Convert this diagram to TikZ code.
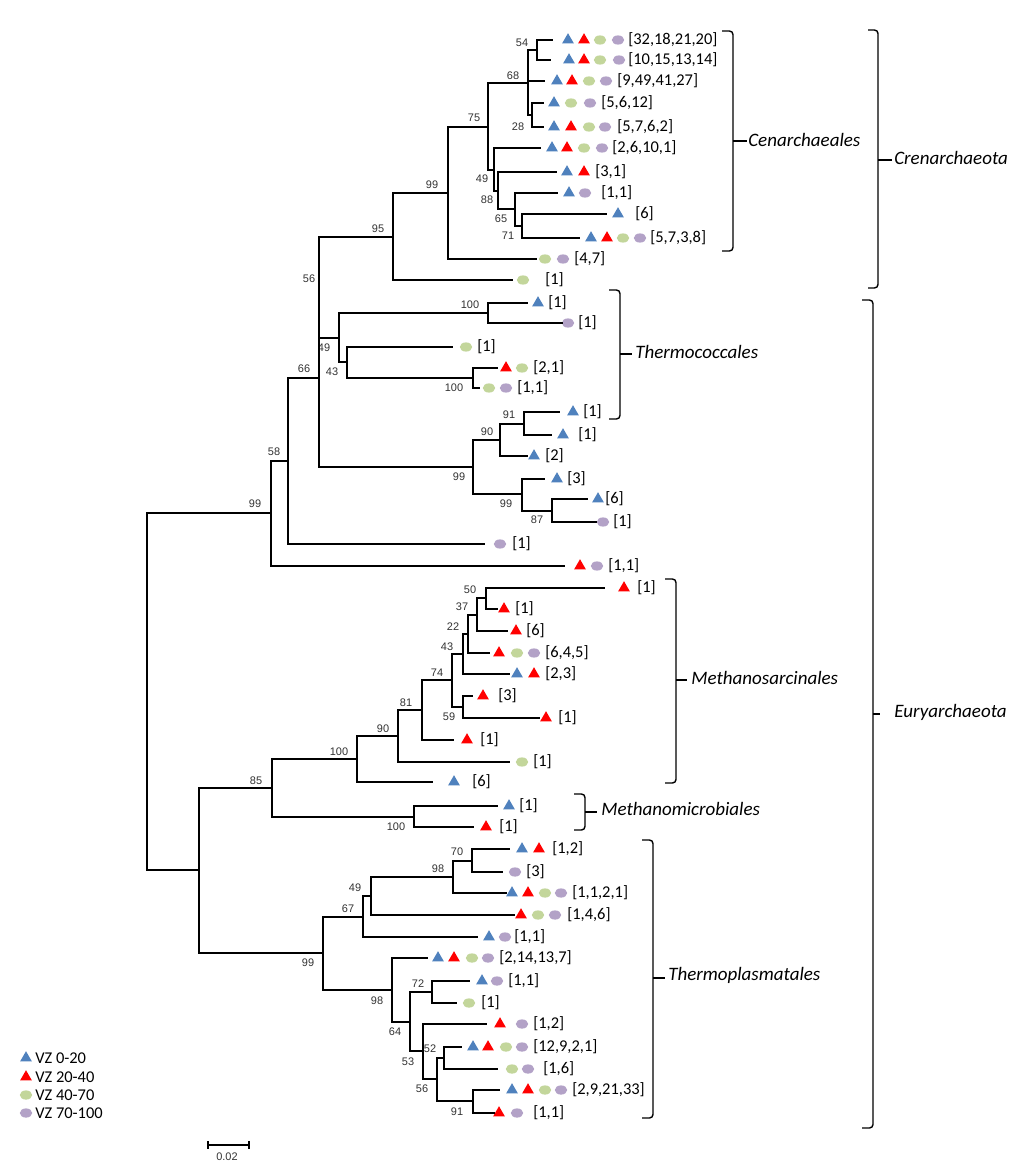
\documentclass[tikz,border=0pt]{standalone}
\usepackage{fontspec}
\setmainfont{Carlito}
\newfontfamily\bsfont{Liberation Sans}
\usetikzlibrary{shapes.geometric}
\definecolor{vzblue}{RGB}{79,129,189}
\definecolor{vzred}{RGB}{255,0,0}
\definecolor{vzgreen}{RGB}{195,214,155}
\definecolor{vzpurple}{RGB}{179,162,199}
\tikzset{
  branch/.style={line width=0.9pt},
  bracket/.style={line width=1pt, rounded corners=2.5pt},
  bs/.style={font=\bsfont\fontsize{7.8}{9}\selectfont, text=black!80, inner sep=0pt},
  lab/.style={font=\fontsize{11.7}{13}\selectfont, anchor=west, inner sep=0pt},
  clade/.style={font=\itshape\fontsize{13.5}{16}\selectfont, anchor=west, inner sep=0pt},
  tb/.style={regular polygon, regular polygon sides=3, inner sep=0pt, minimum size=0.34cm, fill=vzblue},
  tr/.style={regular polygon, regular polygon sides=3, inner sep=0pt, minimum size=0.34cm, fill=vzred},
  eg/.style={ellipse, inner sep=0pt, minimum width=0.31cm, minimum height=0.23cm, fill=vzgreen},
  ep/.style={ellipse, inner sep=0pt, minimum width=0.31cm, minimum height=0.23cm, fill=vzpurple}
}
\begin{document}
\begin{tikzpicture}[x=0.025cm, y=-0.025cm]
\path[use as bounding box, fill=white] (0,0) rectangle (1024,1176);

% Crenarchaeota leaves
\coordinate (c1) at (553,40);
\node[tb] (c1a) at (568,40) {}; \node[tr] (c1b) at (584,40) {}; \node[eg] (c1c) at (600,40) {}; \node[ep] (c1d) at (618,40) {}; \node[lab] (c1t) at (628,40) {[32,18,21,20]};
\coordinate (c2) at (551,60);
\node[tb] (c2a) at (569,60) {}; \node[tr] (c2b) at (584,60) {}; \node[eg] (c2c) at (600,60) {}; \node[ep] (c2d) at (619,60) {}; \node[lab] (c2t) at (628,60) {[10,15,13,14]};
\coordinate (c3) at (545,81);
\node[tb] (c3a) at (557,81) {}; \node[tr] (c3b) at (572,81) {}; \node[eg] (c3c) at (589,81) {}; \node[ep] (c3d) at (606,81) {}; \node[lab] (c3t) at (617,81) {[9,49,41,27]};
\coordinate (c4) at (544,103);
\node[tb] (c4a) at (554,103) {}; \node[eg] (c4c) at (571,103) {}; \node[ep] (c4d) at (590,103) {}; \node[lab] (c4t) at (601,103) {[5,6,12]};
\coordinate (c5) at (544,127);
\node[tb] (c5a) at (554,127) {}; \node[tr] (c5b) at (571,127) {}; \node[eg] (c5c) at (589,127) {}; \node[ep] (c5d) at (605,127) {}; \node[lab] (c5t) at (617,127) {[5,7,6,2]};
\coordinate (c6) at (541,148);
\node[tb] (c6a) at (552,148) {}; \node[tr] (c6b) at (567,148) {}; \node[eg] (c6c) at (584,148) {}; \node[ep] (c6d) at (602,148) {}; \node[lab] (c6t) at (612,148) {[2,6,10,1]};
\coordinate (c7) at (557,172);
\node[tb] (c7a) at (567,172) {}; \node[tr] (c7b) at (584,172) {}; \node[lab] (c7t) at (595,172) {[3,1]};
\coordinate (c8) at (558,193);
\node[tb] (c8a) at (569,193) {}; \node[ep] (c8d) at (585,193) {}; \node[lab] (c8t) at (601,193) {[1,1]};
\coordinate (c9) at (607,214);
\node[tb] (c9a) at (618,214) {}; \node[lab] (c9t) at (635,214) {[6]};
\coordinate (c10) at (580,238);
\node[tb] (c10a) at (591,238) {}; \node[tr] (c10b) at (607,238) {}; \node[eg] (c10c) at (623,238) {}; \node[ep] (c10d) at (640,238) {}; \node[lab] (c10t) at (650,238) {[5,7,3,8]};
\coordinate (c11) at (537,259);
\node[eg] (c11c) at (545,259) {}; \node[ep] (c11d) at (563,259) {}; \node[lab] (c11t) at (574,259) {[4,7]};
\coordinate (c12) at (513,280);
\node[eg] (c12c) at (523,280) {}; \node[lab] (c12t) at (545,280) {[1]};

% Crenarchaeota inner nodes
\coordinate (n54) at (537,50); \node[bs] (b54) at (522,43) {54};
\coordinate (n28) at (532,115); \node[bs] (b28) at (518,127) {28};
\coordinate (n68) at (528,83); \node[bs] (b68) at (513,76) {68};
\coordinate (n71) at (522,226); \node[bs] (b71) at (508,236) {71};
\coordinate (n65) at (515,209); \node[bs] (b65) at (501,219) {65};
\coordinate (n88) at (498,191); \node[bs] (b88) at (487,200) {88};
\coordinate (n49) at (494,170); \node[bs] (b49) at (482,179) {49};
\coordinate (n75) at (488,127); \node[bs] (b75) at (474,118) {75};
\coordinate (n99a) at (448,193); \node[bs] (b99a) at (432,185) {99};
\coordinate (n95) at (393,237); \node[bs] (b95) at (378,229) {95};
\coordinate (nA) at (319,287); \node[bs] (bA) at (309,279) {56};

% Euryarchaeota upper leaves
\coordinate (e1) at (528,303);
\node[tb] (e1a) at (538,303) {}; \node[lab] (e1t) at (548,303) {[1]};
\coordinate (e2) at (563,323);
\node[ep] (e2d) at (568,323) {}; \node[lab] (e2t) at (578,323) {[1]};
\coordinate (e3) at (453,347);
\node[eg] (e3c) at (466,347) {}; \node[lab] (e3t) at (477,347) {[1]};
\coordinate (e4) at (498,368);
\node[tr] (e4b) at (506,368) {}; \node[eg] (e4c) at (522,368) {}; \node[lab] (e4t) at (533,368) {[2,1]};
\coordinate (e5) at (480,388);
\node[eg] (e5c) at (489,388) {}; \node[ep] (e5d) at (506,388) {}; \node[lab] (e5t) at (517,388) {[1,1]};
\coordinate (e6) at (560,412);
\node[tb] (e6a) at (573,412) {}; \node[lab] (e6t) at (583,412) {[1]};
\coordinate (e7) at (552,435);
\node[tb] (e7a) at (563,435) {}; \node[lab] (e7t) at (578,435) {[1]};
\coordinate (e8) at (528,456);
\node[tb] (e8a) at (534,456) {}; \node[lab] (e8t) at (545,456) {[2]};
\coordinate (e9) at (545,479);
\node[tb] (e9a) at (557,479) {}; \node[lab] (e9t) at (567,479) {[3]};
\coordinate (e10) at (588,499);
\node[tb] (e10a) at (598,499) {}; \node[lab] (e10t) at (605,499) {[6]};
\coordinate (e11) at (597,522);
\node[ep] (e11d) at (603,522) {}; \node[lab] (e11t) at (613,522) {[1]};
\coordinate (e12) at (485,544);
\node[ep] (e12d) at (500,544) {}; \node[lab] (e12t) at (512,544) {[1]};
\coordinate (e13) at (565,566);
\node[tr] (e13b) at (580,566) {}; \node[ep] (e13d) at (597,566) {}; \node[lab] (e13t) at (608,566) {[1,1]};

% Euryarchaeota upper inner nodes
\coordinate (n49b) at (339,338); \node[bs] (b49b) at (324,348) {49};
\coordinate (n100a) at (488,313); \node[bs] (b100a) at (470,305) {100};
\coordinate (n43) at (347,362); \node[bs] (b43) at (332,372) {43};
\coordinate (n100b) at (473,378); \node[bs] (b100b) at (454,388) {100};
\coordinate (nE3) at (319,378); \node[bs] (bE3) at (304,369) {66};
\coordinate (n99b) at (473,467); \node[bs] (b99b) at (459,477) {99};
\coordinate (n90) at (500,440); \node[bs] (b90) at (487,432) {90};
\coordinate (n91) at (524,424); \node[bs] (b91) at (509,415) {91};
\coordinate (n99c) at (522,494); \node[bs] (b99c) at (506,504) {99};
\coordinate (n87) at (552,511); \node[bs] (b87) at (537,520) {87};
\coordinate (nE2) at (288,461); \node[bs] (bE2) at (274,452) {58};
\coordinate (nE1) at (271,513); \node[bs] (bE1) at (255,504) {99};

% Methanosarcinales and Methanomicrobiales leaves
\coordinate (m1) at (605,588);
\node[tr] (m1b) at (624,588) {}; \node[lab] (m1t) at (637,588) {[1]};
\coordinate (m2) at (498,609);
\node[tr] (m2b) at (504,609) {}; \node[lab] (m2t) at (515,609) {[1]};
\coordinate (m3) at (508,631);
\node[tr] (m3b) at (516,631) {}; \node[lab] (m3t) at (526,631) {[6]};
\coordinate (m4) at (490,653);
\node[tr] (m4b) at (499,653) {}; \node[eg] (m4c) at (517,653) {}; \node[ep] (m4d) at (534,653) {}; \node[lab] (m4t) at (545,653) {[6,4,5]};
\coordinate (m5) at (510,674);
\node[tb] (m5a) at (517,674) {}; \node[tr] (m5b) at (534,674) {}; \node[lab] (m5t) at (545,674) {[2,3]};
\coordinate (m6) at (473,696);
\node[tr] (m6b) at (483,696) {}; \node[lab] (m6t) at (498,696) {[3]};
\coordinate (m7) at (540,718);
\node[tr] (m7b) at (546,718) {}; \node[lab] (m7t) at (558,718) {[1]};
\coordinate (m8) at (454,740);
\node[tr] (m8b) at (467,740) {}; \node[lab] (m8t) at (480,740) {[1]};
\coordinate (m9) at (510,762);
\node[eg] (m9c) at (522,762) {}; \node[lab] (m9t) at (533,762) {[1]};
\coordinate (m10) at (433,782);
\node[tb] (m10a) at (454,782) {}; \node[lab] (m10t) at (472,782) {[6]};
\coordinate (mm1) at (498,806);
\node[tb] (mm1a) at (509,806) {}; \node[lab] (mm1t) at (519,806) {[1]};
\coordinate (mm2) at (474,827);
\node[tr] (mm2b) at (486,827) {}; \node[lab] (mm2t) at (499,827) {[1]};

% Methanosarcinales and Methanomicrobiales inner nodes
\coordinate (n50) at (486,598); \node[bs] (b50) at (470,590) {50};
\coordinate (n37) at (477,615); \node[bs] (b37) at (462,607) {37};
\coordinate (n22) at (468,634); \node[bs] (b22) at (453,627) {22};
\coordinate (n43m) at (463,654); \node[bs] (b43m) at (447,647) {43};
\coordinate (n59) at (463,707); \node[bs] (b59) at (449,717) {59};
\coordinate (n74) at (452,680); \node[bs] (b74) at (437,673) {74};
\coordinate (n81) at (422,710); \node[bs] (b81) at (406,703) {81};
\coordinate (n90m) at (398,736); \node[bs] (b90m) at (383,729) {90};
\coordinate (n100m) at (357,759); \node[bs] (b100m) at (339,752) {100};
\coordinate (n100mm) at (414,817); \node[bs] (b100mm) at (396,827) {100};
\coordinate (n85) at (272,788); \node[bs] (b85) at (256,781) {85};

% Thermoplasmatales leaves
\coordinate (t1) at (510,849);
\node[tb] (t1a) at (522,849) {}; \node[tr] (t1b) at (539,849) {}; \node[lab] (t1t) at (552,849) {[1,2]};
\coordinate (t2) at (503,872);
\node[ep] (t2d) at (515,872) {}; \node[lab] (t2t) at (526,872) {[3]};
\coordinate (t3) at (507,893);
\node[tb] (t3a) at (512,893) {}; \node[tr] (t3b) at (528,893) {}; \node[eg] (t3c) at (545,893) {}; \node[ep] (t3d) at (561,893) {}; \node[lab] (t3t) at (572,893) {[1,1,2,1]};
\coordinate (t4) at (515,915);
\node[tr] (t4b) at (521,915) {}; \node[eg] (t4c) at (538,915) {}; \node[ep] (t4d) at (555,915) {}; \node[lab] (t4t) at (567,915) {[1,4,6]};
\coordinate (t5) at (478,937);
\node[tb] (t5a) at (489,937) {}; \node[ep] (t5d) at (505,937) {}; \node[lab] (t5t) at (514,937) {[1,1]};
\coordinate (t6) at (428,958);
\node[tb] (t6a) at (438,958) {}; \node[tr] (t6b) at (454,958) {}; \node[eg] (t6c) at (472,958) {}; \node[ep] (t6d) at (488,958) {}; \node[lab] (t6t) at (499,958) {[2,14,13,7]};
\coordinate (t7) at (470,981);
\node[tb] (t7a) at (482,981) {}; \node[ep] (t7d) at (497,981) {}; \node[lab] (t7t) at (508,981) {[1,1]};
\coordinate (t8) at (457,1003);
\node[eg] (t8c) at (469,1003) {}; \node[lab] (t8t) at (481,1003) {[1]};
\coordinate (t9) at (487,1024);
\node[tr] (t9b) at (500,1024) {}; \node[ep] (t9d) at (522,1024) {}; \node[lab] (t9t) at (533,1024) {[1,2]};
\coordinate (t10) at (462,1047);
\node[tb] (t10a) at (473,1047) {}; \node[tr] (t10b) at (488,1047) {}; \node[eg] (t10c) at (506,1047) {}; \node[ep] (t10d) at (522,1047) {}; \node[lab] (t10t) at (533,1047) {[12,9,2,1]};
\coordinate (t11) at (498,1069);
\node[eg] (t11c) at (512,1069) {}; \node[ep] (t11d) at (528,1069) {}; \node[lab] (t11t) at (543,1069) {[1,6]};
\coordinate (t12) at (500,1090);
\node[tb] (t12a) at (512,1090) {}; \node[tr] (t12b) at (528,1090) {}; \node[eg] (t12c) at (545,1090) {}; \node[ep] (t12d) at (561,1090) {}; \node[lab] (t12t) at (572,1090) {[2,9,21,33]};
\coordinate (t13) at (495,1113);
\node[tr] (t13b) at (499,1113) {}; \node[ep] (t13d) at (517,1113) {}; \node[lab] (t13t) at (533,1113) {[1,1]};

% Thermoplasmatales inner nodes
\coordinate (n70) at (472,861); \node[bs] (b70) at (457,852) {70};
\coordinate (n98t) at (453,877); \node[bs] (b98t) at (438,869) {98};
\coordinate (n49t) at (371,896); \node[bs] (b49t) at (355,888) {49};
\coordinate (n67) at (363,917); \node[bs] (b67) at (348,909) {67};
\coordinate (n72) at (432,992); \node[bs] (b72) at (418,984) {72};
\coordinate (n52) at (444,1058); \node[bs] (b52) at (430,1049) {52};
\coordinate (n91t) at (473,1101); \node[bs] (b91t) at (457,1112) {91};
\coordinate (n56t) at (437,1079); \node[bs] (b56t) at (422,1089) {56};
\coordinate (n53) at (423,1051); \node[bs] (b53) at (408,1062) {53};
\coordinate (n64) at (410,1022); \node[bs] (b64) at (395,1032) {64};
\coordinate (n98b) at (392,990); \node[bs] (b98b) at (377,1001) {98};
\coordinate (n99t) at (323,953); \node[bs] (b99t) at (308,963) {99};
\coordinate (n199) at (199,870);
\coordinate (root) at (147,692);

% Branches
\draw[branch] (n54) |- (c1) (n54) |- (c2);
\draw[branch] (n28) |- (c4) (n28) |- (c5);
\draw[branch] (n68) |- (n54) (n68) |- (c3) (n68) |- (n28);
\draw[branch] (n71) |- (c9) (n71) |- (c10);
\draw[branch] (n65) |- (c8) (n65) |- (n71);
\draw[branch] (n88) |- (c7) (n88) |- (n65);
\draw[branch] (n49) |- (c6) (n49) |- (n88);
\draw[branch] (n75) |- (n68) (n75) |- (n49);
\draw[branch] (n99a) |- (n75) (n99a) |- (c11);
\draw[branch] (n95) |- (n99a) (n95) |- (c12);
\draw[branch] (nA) |- (n95) (nA) |- (n49b);
\draw[branch] (n100a) |- (e1) (n100a) |- (e2);
\draw[branch] (n100b) |- (e4) (n100b) |- (e5);
\draw[branch] (n43) |- (e3) (n43) |- (n100b);
\draw[branch] (n49b) |- (n100a) (n49b) |- (n43);
\draw[branch] (n91) |- (e6) (n91) |- (e7);
\draw[branch] (n90) |- (n91) (n90) |- (e8);
\draw[branch] (n87) |- (e10) (n87) |- (e11);
\draw[branch] (n99c) |- (e9) (n99c) |- (n87);
\draw[branch] (n99b) |- (n90) (n99b) |- (n99c);
\draw[branch] (nE3) |- (nA) (nE3) |- (n99b);
\draw[branch] (nE2) |- (nE3) (nE2) |- (e12);
\draw[branch] (nE1) |- (nE2) (nE1) |- (e13);
\draw[branch] (n50) |- (m1) (n50) |- (m2);
\draw[branch] (n37) |- (n50) (n37) |- (m3);
\draw[branch] (n22) |- (n37) (n22) |- (m4);
\draw[branch] (n43m) |- (n22) (n43m) |- (m5);
\draw[branch] (n59) |- (m6) (n59) |- (m7);
\draw[branch] (n74) |- (n43m) (n74) |- (n59);
\draw[branch] (n81) |- (n74) (n81) |- (m8);
\draw[branch] (n90m) |- (n81) (n90m) |- (m9);
\draw[branch] (n100m) |- (n90m) (n100m) |- (m10);
\draw[branch] (n100mm) |- (mm1) (n100mm) |- (mm2);
\draw[branch] (n85) |- (n100m) (n85) |- (n100mm);
\draw[branch] (n70) |- (t1) (n70) |- (t2);
\draw[branch] (n98t) |- (n70) (n98t) |- (t3);
\draw[branch] (n49t) |- (n98t) (n49t) |- (t4);
\draw[branch] (n67) |- (n49t) (n67) |- (t5);
\draw[branch] (n72) |- (t7) (n72) |- (t8);
\draw[branch] (n52) |- (t10) (n52) |- (t11);
\draw[branch] (n91t) |- (t12) (n91t) |- (t13);
\draw[branch] (n56t) |- (n52) (n56t) |- (n91t);
\draw[branch] (n53) |- (t9) (n53) |- (n56t);
\draw[branch] (n64) |- (n72) (n64) |- (n53);
\draw[branch] (n98b) |- (t6) (n98b) |- (n64);
\draw[branch] (n99t) |- (n67) (n99t) |- (n98b);
\draw[branch] (n199) |- (n85) (n199) |- (n99t);
\draw[branch] (root) |- (nE1) (root) |- (n199);

% Clade brackets
\draw[bracket] (722,31) -- (733,31) -- (733,251) -- (722,251); \draw[bracket] (733,141) -- (747,141);
\node[clade] (cen) at (748,140) {Cenarchaeales};
\draw[bracket] (868,30) -- (878,30) -- (878,288) -- (868,288); \draw[bracket] (878,160) -- (892,160);
\node[clade] (cren) at (894,158) {Crenarchaeota};
\draw[bracket] (609,290) -- (620,290) -- (620,419) -- (609,419); \draw[bracket] (620,354) -- (632,354);
\node[clade] (thc) at (635,352) {Thermococcales};
\draw[bracket] (862,300) -- (873,300) -- (873,1128) -- (862,1128); \draw[bracket] (873,714) -- (880,714);
\node[clade] (eury) at (894,712) {Euryarchaeota};
\draw[bracket] (665,579) -- (676,579) -- (676,783) -- (665,783); \draw[bracket] (676,680) -- (687,680);
\node[clade] (msar) at (691,678) {Methanosarcinales};
\draw[bracket] (574,794) -- (585,794) -- (585,830) -- (574,830); \draw[bracket] (585,812) -- (597,812);
\node[clade] (mmic) at (601,809) {Methanomicrobiales};
\draw[bracket] (642,840) -- (653,840) -- (653,1118) -- (642,1118); \draw[bracket] (653,978) -- (665,978);
\node[clade] (tpl) at (668,975) {Thermoplasmatales};

% Legend
\node[tb] (k1) at (26,1058) {}; \node[lab] (k1t) at (35,1058) {VZ 0-20};
\node[tr] (k2) at (26,1077) {}; \node[lab] (k2t) at (35,1077) {VZ 20-40};
\node[eg] (k3) at (26,1095) {}; \node[lab] (k3t) at (35,1095) {VZ 40-70};
\node[ep] (k4) at (26,1113) {}; \node[lab] (k4t) at (35,1113) {VZ 70-100};

% Scale bar
\draw[branch] (208,1141) -- (208,1149) (208,1145) -- (249,1145) (249,1141) -- (249,1149);
\node[bs] (scale) at (227,1157) {0.02};
\end{tikzpicture}
\end{document}
